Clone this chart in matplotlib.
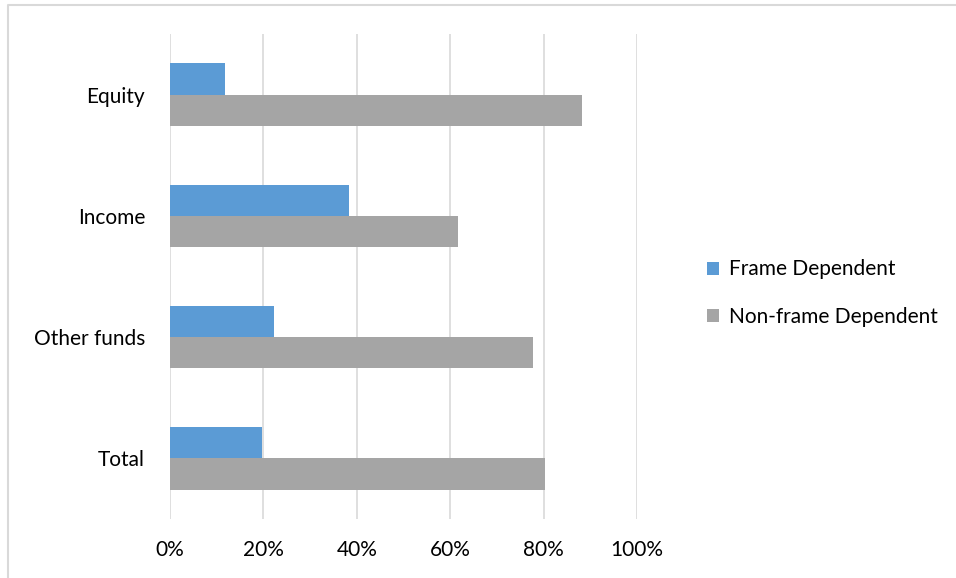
import numpy as np
import matplotlib.pyplot as plt
from matplotlib.lines import Line2D
from matplotlib.ticker import PercentFormatter

categories = ['Equity', 'Income', 'Other funds', 'Total']
frame_dep = [11.8, 38.4, 22.2, 19.6]
non_frame_dep = [88.2, 61.6, 77.8, 80.4]
xticks = [0, 20, 40, 60, 80, 100]

plt.rcParams['font.family'] = ['Lato', 'DejaVu Sans']
plt.rcParams['font.size'] = 15

W, H = 956, 578
fig = plt.figure(figsize=(W / 100, H / 100), dpi=100)
# outer chart frame: only top and left edges are visible in the crop
fig.lines.append(Line2D([7.5 / W, 7.5 / W, 1], [0, 1 - 4.5 / H, 1 - 4.5 / H],
                        transform=fig.transFigure, color='#d9d9d9', linewidth=1.5))

ax = fig.add_axes([170 / W, (H - 519) / H, (637 - 170) / W, (519 - 34) / H])
y = np.arange(len(categories))
h = 0.258
ax.barh(y - h / 2, frame_dep, height=h, color='#5B9BD5', label='Frame Dependent', zorder=3)
ax.barh(y + h / 2, non_frame_dep, height=h, color='#A5A5A5', label='Non-frame Dependent', zorder=3)

ax.set_ylim(3.5, -0.5)
ax.set_xlim(0, 100)
ax.set_yticks(y)
ax.set_yticklabels(categories)
ax.set_xticks(xticks)
ax.xaxis.set_major_formatter(PercentFormatter(decimals=0))
ax.tick_params(length=0)
ax.tick_params(axis='x', pad=15)
ax.tick_params(axis='y', pad=18)
ax.grid(axis='x', color='#d9d9d9', linewidth=1.2, zorder=0)
for s in ax.spines.values():
    s.set_visible(False)

fig.legend(loc='center left', bbox_to_anchor=(688 / W, 1 - 293 / H), frameon=False,
           handlelength=0.6, handleheight=0.6, handletextpad=0.45, labelspacing=1.3,
           fontsize=15)

fig.savefig('out.png', dpi=100)
